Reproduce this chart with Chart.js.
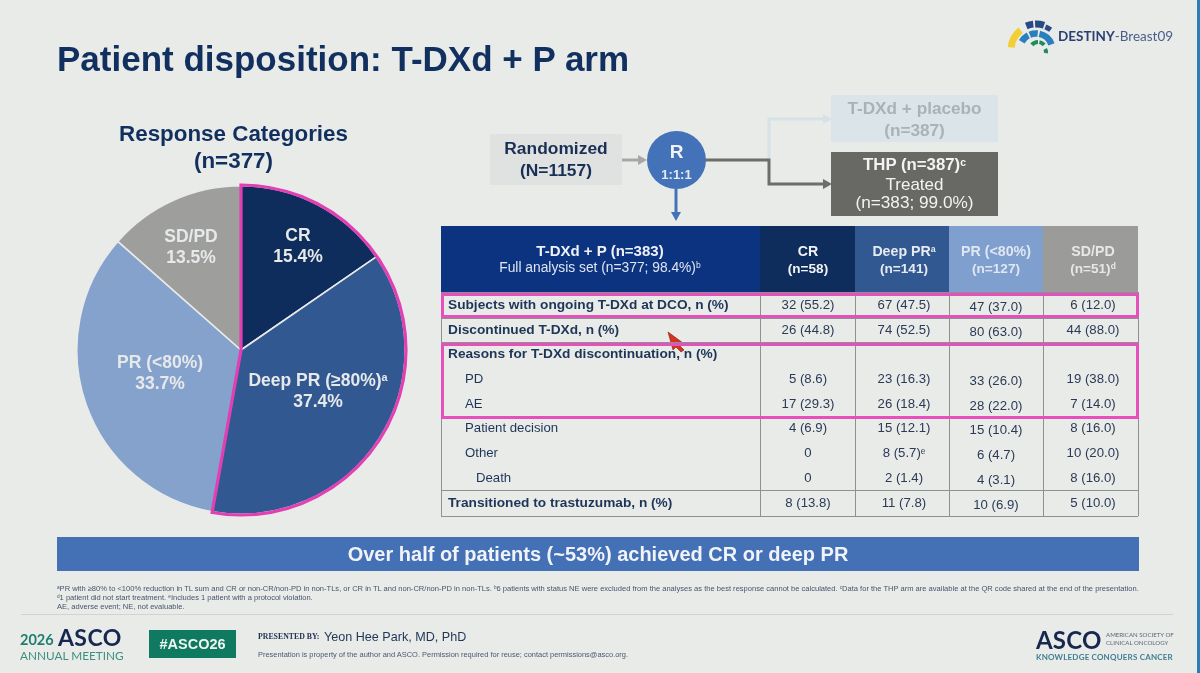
<!DOCTYPE html>
<html><head><meta charset="utf-8">
<script src="https://cdn.jsdelivr.net/npm/chart.js@4"></script>
<style>
html,body{margin:0;padding:0;width:1200px;height:673px;overflow:hidden;background:#e9ebe9;font-family:"Liberation Sans",Arial,sans-serif}
#s{position:absolute;left:0;top:0;width:1200px;height:673px;filter:blur(.35px)}
.t{position:absolute;white-space:nowrap;line-height:1}
.b{position:absolute}
sup{font-size:62%;line-height:0;vertical-align:baseline;position:relative;top:-.42em}
canvas{position:absolute}
svg{position:absolute;left:0;top:0}
</style></head><body><div id="s">
<svg id="g" width="1200" height="673"></svg>
<canvas id="pie" width="340" height="340" style="left:71px;top:180px;width:340px;height:340px"></canvas>
</div>
<script>
// ---- data ----
const categories=["CR","Deep PR (≥80%)","PR (<80%)","SD/PD"];
const shares=[15.4,37.4,33.7,13.5];
const sliceColors=["#0e2d5c","#325892","#85a2cd","#9e9f9d"];
const sliceLabels=["CR","Deep PR (≥80%)<sup>a</sup>","PR (&lt;80%)","SD/PD"];
const sliceLabelPos=[[298,247],[318,392],[160,374],[191,248]];
const rowLabels=["Subjects with ongoing T-DXd at DCO, n (%)","Discontinued T-DXd, n (%)","Reasons for T-DXd discontinuation, n (%)","PD","AE","Patient decision","Other","Death","Transitioned to trastuzumab, n (%)"];
const colCR=["32 (55.2)","26 (44.8)","","5 (8.6)","17 (29.3)","4 (6.9)","0","0","8 (13.8)"];
const colDeep=["67 (47.5)","74 (52.5)","","23 (16.3)","26 (18.4)","15 (12.1)","8 (5.7)<sup>e</sup>","2 (1.4)","11 (7.8)"];
const colPR=["47 (37.0)","80 (63.0)","","33 (26.0)","28 (22.0)","15 (10.4)","6 (4.7)","4 (3.1)","10 (6.9)"];
const colSD=["6 (12.0)","44 (88.0)","","19 (38.0)","7 (14.0)","8 (16.0)","10 (20.0)","8 (16.0)","5 (10.0)"];
const headNames=["CR","Deep PR<sup>a</sup>","PR (&lt;80%)","SD/PD"];
const headNs=["(n=58)","(n=141)","(n=127)","(n=51)<sup>d</sup>"];

// ---- page helpers ----
const S=document.getElementById('s'),G=document.getElementById('g');
function T(x,y,html,o={}){const d=document.createElement('div');d.className='t';d.innerHTML=html;
 const al=o.a||'c';const tx=al=='c'?'-50%':al=='r'?'-100%':'0';
 d.style.cssText=`left:${x}px;top:${y}px;transform:translate(${tx},-50%);font-size:${o.s||13}px;color:${o.c||'#1a2f55'};font-weight:${o.b?'700':'400'};`+(o.f?`font-family:${o.f};`:'')+(o.x||'');S.appendChild(d);return d}
function R(x,y,w,h,c,z){const d=document.createElement('div');d.className='b';d.style.cssText=`left:${x}px;top:${y}px;width:${w}px;height:${h}px;background:${c};`+(z?`border:${z};box-sizing:border-box;`:'');S.appendChild(d);return d}
function P(d,st,w,f){const p=document.createElementNS('http://www.w3.org/2000/svg','path');p.setAttribute('d',d);p.setAttribute('stroke',st||'none');p.setAttribute('stroke-width',w||0);p.setAttribute('fill',f||'none');G.appendChild(p)}
function ARC(cx,cy,r,a0,a1,st,w){const pt=a=>[cx+r*Math.cos(a*Math.PI/180),cy+r*Math.sin(a*Math.PI/180)];const[p,q]=[pt(a0),pt(a1)];P(`M${p[0]} ${p[1]}A${r} ${r} 0 0 1 ${q[0]} ${q[1]}`,st,w)}

// ---- title and header logo ----
T(57,57.5,"Patient disposition: T-DXd + P arm",{a:'l',s:35,b:1,c:'#12305f'});
ARC(1036,50,25,186,232,'#f2cf35',7);
ARC(1036,50,26,-112,-96,'#2a4a86',7);ARC(1036,50,26,-92,-72,'#2a4a86',7);ARC(1036,50,25,-68,-54,'#2a4a86',5);
ARC(1036,50,16.5,-150,-118,'#2a80bf',6.5);ARC(1036,50,16.5,-112,-84,'#2a80bf',6.5);ARC(1036,50,16.5,-78,-20,'#2a80bf',6.5);
ARC(1038,50,8,-140,-90,'#1f8a5c',4);ARC(1038,50,8,-80,-40,'#1f8a5c',4);ARC(1040,52,6,-30,10,'#1f8a5c',4);
T(1058,37,'<b style="color:#2c3f73">DESTINY</b><span style="color:#4a5c8a">-Breast09</span>',{a:'l',s:13.5,f:'Lato'});

// ---- pie heading ----
T(233.5,134,"Response Categories",{s:22.4,b:1,c:'#12305f'});
T(233.5,161,"(n=377)",{s:22.4,b:1,c:'#12305f'});

// ---- the pie ----
const outline={id:'outline',afterDatasetsDraw(c){const a=c.getDatasetMeta(0).data,m=a[0],ctx=c.ctx;
 ctx.save();ctx.beginPath();ctx.moveTo(m.x,m.y);ctx.arc(m.x,m.y,m.outerRadius+.8,a[0].startAngle,a[1].endAngle);ctx.closePath();
 ctx.lineWidth=3.2;ctx.lineJoin='miter';ctx.strokeStyle='#e23fb3';ctx.stroke();ctx.restore()}};
new Chart(document.getElementById('pie'),{type:'pie',plugins:[outline],
 data:{labels:categories,datasets:[{data:shares,backgroundColor:sliceColors,borderColor:'#e9ebe9',borderWidth:1.6}]},
 options:{responsive:false,animation:false,layout:{padding:5},plugins:{legend:{display:false},tooltip:{enabled:false}}}});
sliceLabels.forEach((n,i)=>{const[x,y]=sliceLabelPos[i],c='#e6e9ea';
 T(x,y-11,n,{s:17.5,b:1,c});T(x,y+10,shares[i].toFixed(1)+'%',{s:17.5,b:1,c})});

// ---- flow diagram ----
R(490,134,132,51,'#dfe2e1');
T(556,149,"Randomized",{s:17.4,b:1});T(556,171,"(N=1157)",{s:17.4,b:1});
P('M622 160H640','#a6a8a4',3);P('M638 155L647 160L638 165Z','none',0,'#a6a8a4');
P('M769 160V119H824','#d6e2e6',3);P('M823 114L832 119L823 124Z','none',0,'#d6e2e6');
P('M705 160H769V184H824','#6d6e69',3);P('M823 179L832 184L823 189Z','none',0,'#6d6e69');
P('M676 189V214','#4472b8',3);P('M671 212L676 221L681 212Z','none',0,'#4472b8');
const ci=R(647,131,59,58,'#4472b8');ci.style.borderRadius='50%';
T(676.5,151,"R",{s:19,b:1,c:'#f0f2f4'});T(676.5,174,"1:1:1",{s:13,b:1,c:'#e6e9ee'});
R(831,95,167,47,'#dbe4e8');
T(914.5,109,"T-DXd + placebo",{s:17.2,b:1,c:'#a9b2b8'});T(914.5,131,"(n=387)",{s:17.2,b:1,c:'#a9b2b8'});
R(831,152,167,64,'#686864');
T(914.5,165,"THP (n=387)<sup>c</sup>",{s:16.8,b:1,c:'#f2f3f2'});T(914.5,184,"Treated",{s:17,c:'#f2f3f2'});T(914.5,203,"(n=383; 99.0%)",{s:17.2,c:'#f2f3f2'});

// ---- table ----
const colX=[760,855,949,1043,1138],colC=[808,904,996,1093],headC=['#0e2d5c','#325892','#7f9fce','#9b9c9a'];
const headT=['#f0f2f5','#e6ebf2','#e0e7f2','#e6e7e6'];
R(441,226,319,66,'#0c3380');
T(600,250,"T-DXd + P (n=383)",{s:15,b:1,c:'#eef1f6'});
T(600,267.5,"Full analysis set (n=377; 98.4%)<sup>b</sup>",{s:13.8,c:'#dfe5f0'});
headNames.forEach((n,i)=>{R(colX[i],226,colX[i+1]-colX[i],66,headC[i]);
 T(colC[i],251,n,{s:14.2,b:1,c:headT[i]});T(colC[i],269,headNs[i],{s:13.6,b:1,c:headT[i]})});
const L='#8d918f';
[292,318,342,490,516].forEach(y=>R(441,y,697,1.2,L));
[441,760,855,949,1043,1138].forEach(x=>R(x,292,1.2,224,L));
const rowY=[305,330,354,379,404,428,453,478,503];
const rowBold=[1,1,1,0,0,0,0,0,1],rowIndent=[448,448,448,465,465,465,465,476,448];
rowLabels.forEach((n,i)=>{T(rowIndent[i],rowY[i],n,{a:'l',s:rowBold[i]?13.7:13.2,b:rowBold[i],c:'#1d3557'})});
[colCR,colDeep,colPR,colSD].forEach((col,j)=>col.forEach((v,i)=>{if(v)T(colC[j],rowY[i]+(j==2?1.5:0),v,{s:13.2,c:'#2b3a55'})}));
R(441,293,698,25,'transparent','3px solid #e550bd');
R(441,343,698,76,'transparent','3px solid #e550bd');
// pointer
P('M668 332L683 343L679 345L684 350L681 352L676 347L673 350Z','#7a1d12',.6,'#d8321f');

// ---- banner ----
R(57,537,1082,34,'#4470b5');
T(598,554,"Over half of patients (~53%) achieved CR or deep PR",{s:20,b:1,c:'#f0f3f8'});

// ---- footnotes ----
const fc='#46546b';
T(57,588.5,'<sup>a</sup>PR with ≥80% to &lt;100% reduction in TL sum and CR or non-CR/non-PD in non-TLs, or CR in TL and non-CR/non-PD in non-TLs. <sup>b</sup>6 patients with status NE were excluded from the analyses as the best response cannot be calculated. <sup>c</sup>Data for the THP arm are available at the QR code shared at the end of the presentation.',{a:'l',s:7.56,c:fc});
T(57,597.5,'<sup>d</sup>1 patient did not start treatment. <sup>e</sup>Includes 1 patient with a protocol violation.',{a:'l',s:7.56,c:fc});
T(57,606.5,'AE, adverse event; NE, not evaluable.',{a:'l',s:7.56,c:fc});
R(21,614,1152,1,'#cfd3d2');

// ---- footer ----
T(20,640,"2026",{a:'l',s:14.5,b:1,c:'#1f7f6e',f:'Lato'});
T(58,636.5,"ASCO",{a:'l',s:23,b:1,c:'#16284f',f:'Lato',x:'letter-spacing:.4px;'});
T(20,656,"ANNUAL MEETING",{a:'l',s:11.8,c:'#3f8f80',f:'Lato'});
R(149,630,87,28,'#0f7a60');
T(192.5,644,"#ASCO26",{s:14.5,b:1,c:'#eef4f1'});
T(258,637,"PRESENTED BY:",{a:'l',s:7.8,b:1,c:'#1f2f4f',f:'"Liberation Serif"'});
T(324,637,"Yeon Hee Park, MD, PhD",{a:'l',s:12.6,c:'#1f3556'});
T(258,655,"Presentation is property of the author and ASCO. Permission required for reuse; contact permissions@asco.org.",{a:'l',s:7.46,c:'#4b5870'});
T(1036,640,"ASCO",{a:'l',s:24,b:1,c:'#16284f',f:'Lato',x:'letter-spacing:.2px;'});
T(1106,635,"AMERICAN SOCIETY OF",{a:'l',s:6.1,c:'#5a6678',f:'Lato'});
T(1106,643,"CLINICAL ONCOLOGY",{a:'l',s:6.1,c:'#5a6678',f:'Lato'});
T(1036,657,"KNOWLEDGE CONQUERS CANCER",{a:'l',s:8,b:1,c:'#3f7f92',f:'Lato',x:'letter-spacing:.2px;'});
R(1197,0,3,673,'#2c7fb5');
</script></body></html>
